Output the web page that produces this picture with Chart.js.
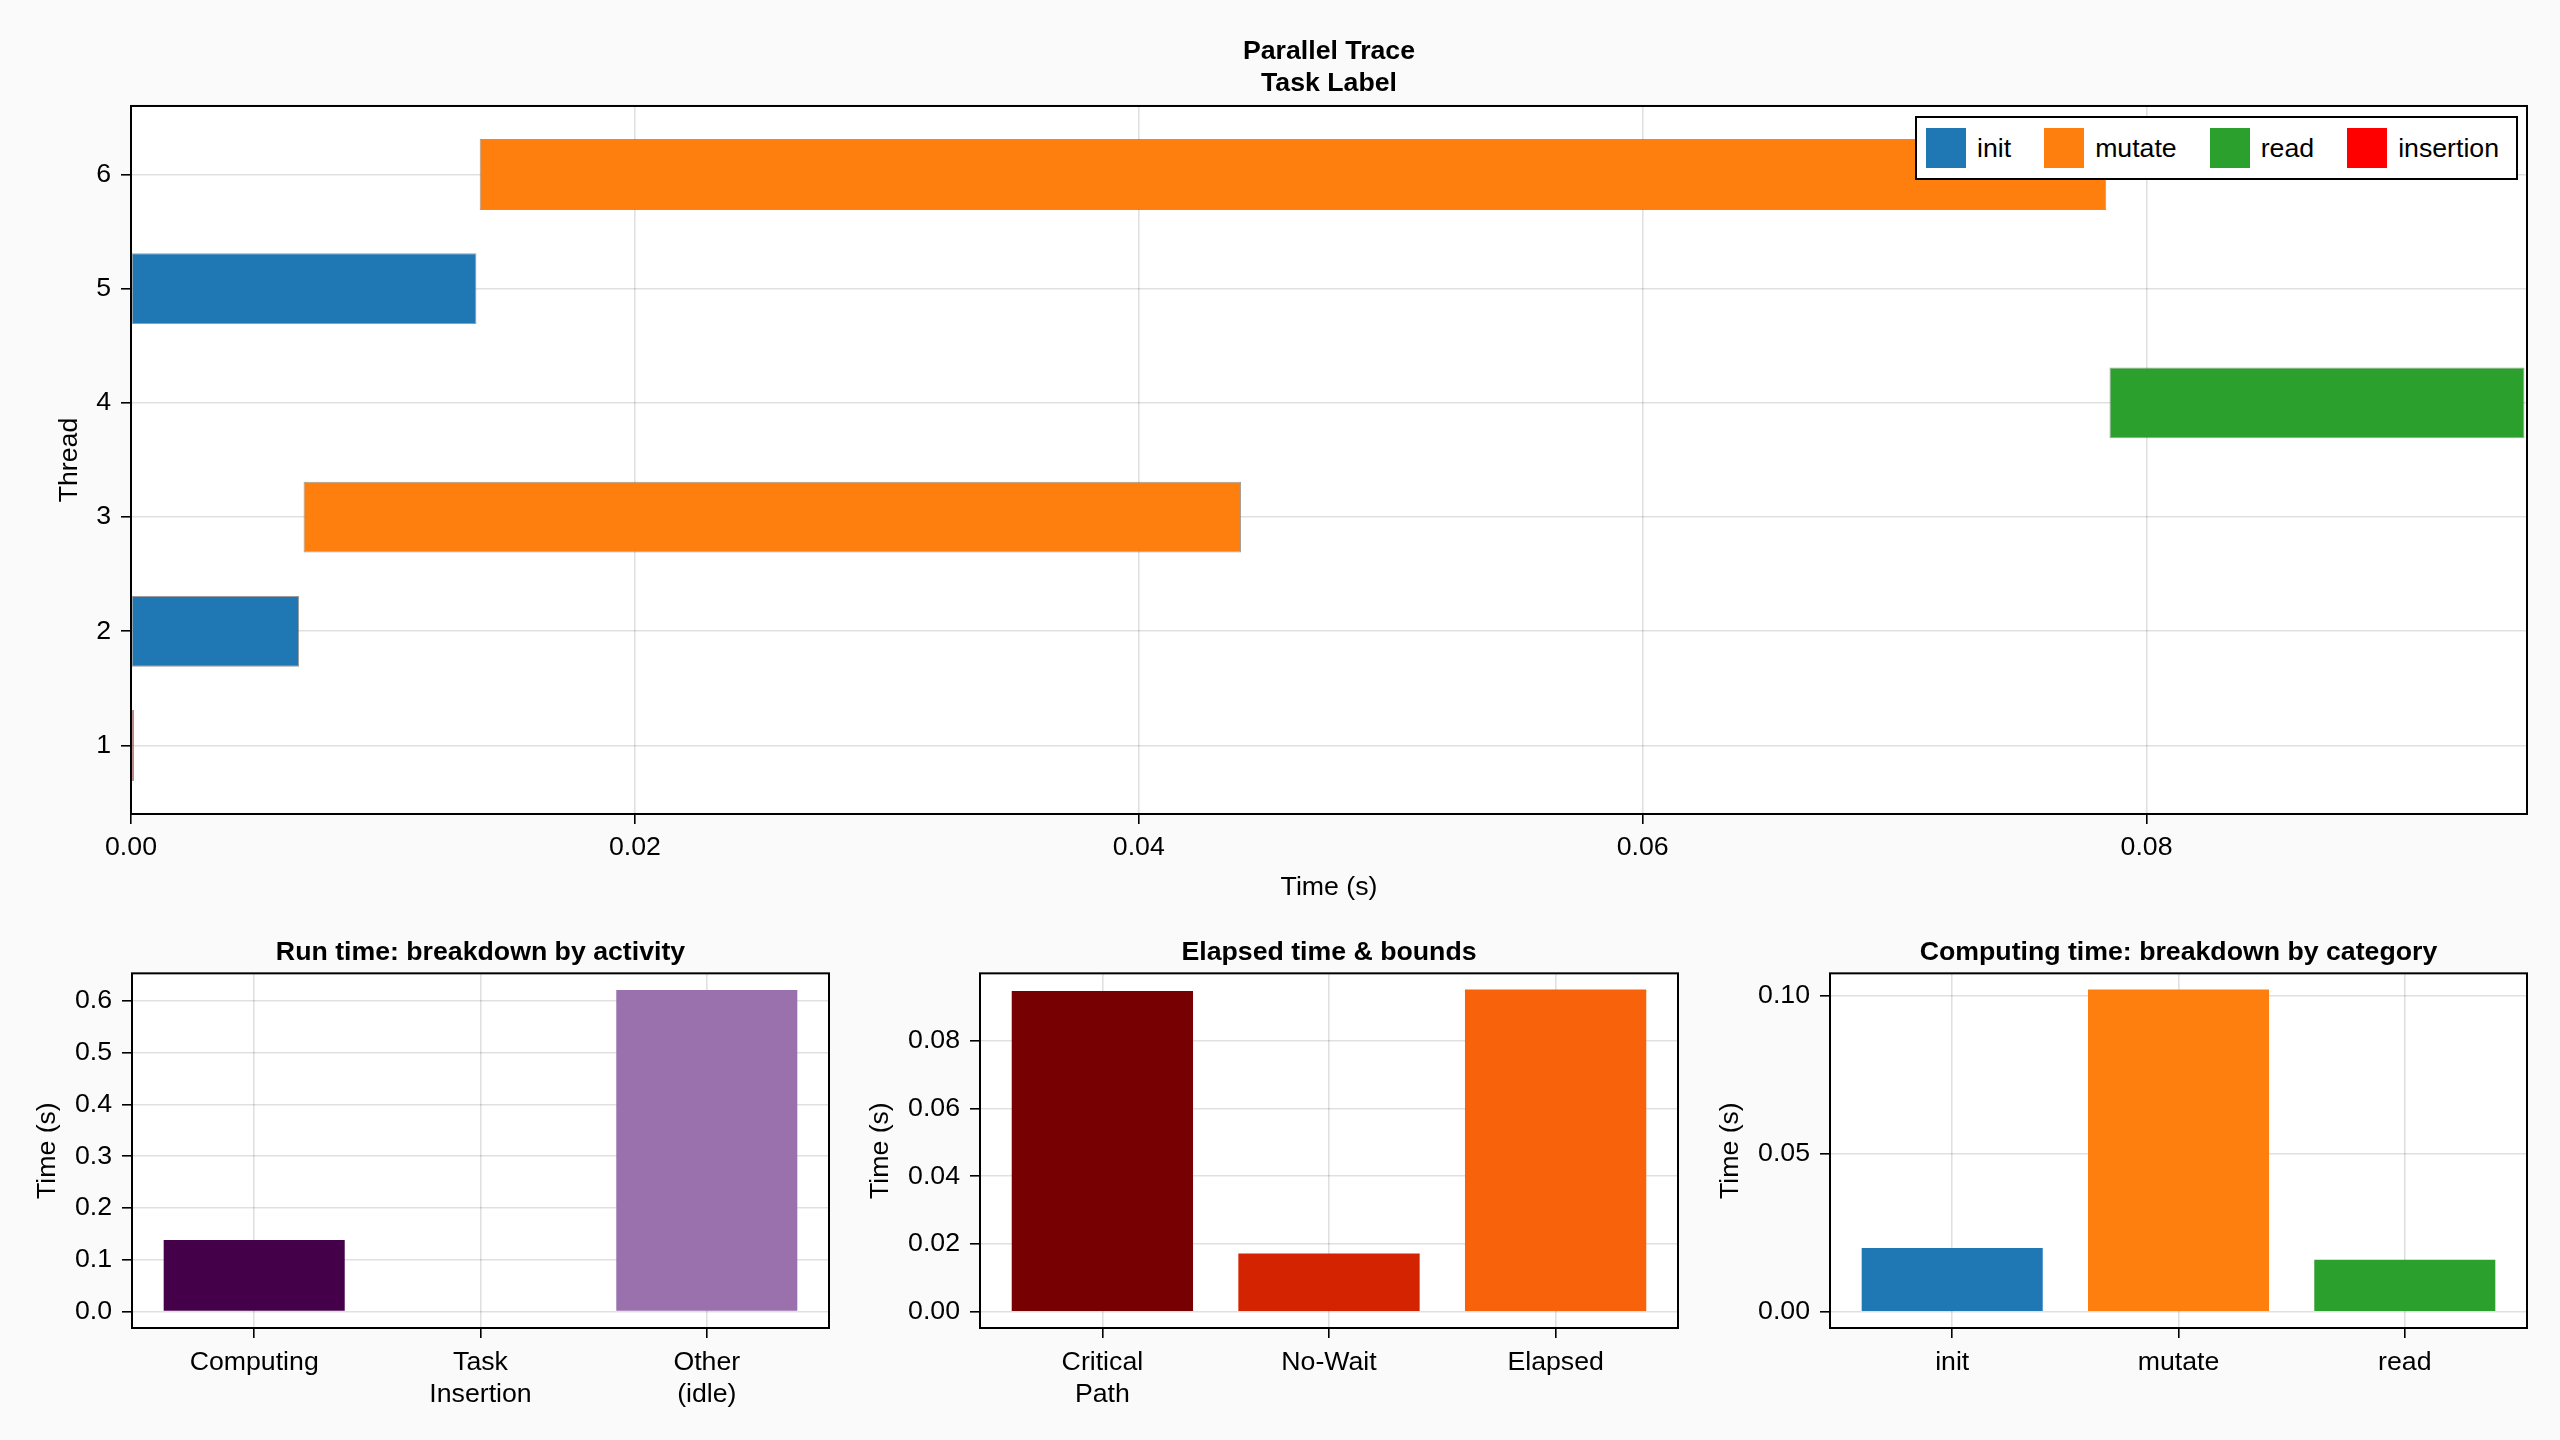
<!DOCTYPE html>
<html><head><meta charset="utf-8">
<script src="https://cdn.jsdelivr.net/npm/chart.js@4/dist/chart.umd.min.js"></script>
<style>
html,body{margin:0;padding:0;background:#fafafa;}
body{width:2560px;height:1440px;position:relative;overflow:hidden;font-family:'Liberation Sans',Arial,sans-serif;}
.box{position:absolute;}
#legend{position:absolute;left:1915px;top:116px;width:603px;height:64px;box-sizing:border-box;border:2px solid #000;background:#fff;display:flex;align-items:center;padding-left:9px;font-size:26.7px;color:#000;}
#legend .it{display:flex;align-items:center;margin-right:33px;}
#legend .it:last-child{margin-right:0;}
#legend .sw{width:40px;height:40px;margin-right:11px;}
</style></head><body>
<div class="box" style="left:0;top:0;width:2560px;height:910px"><canvas id="trace"></canvas></div>
<div class="box" style="left:1px;top:910px;width:858px;height:530px"><canvas id="p1"></canvas></div>
<div class="box" style="left:849px;top:910px;width:859px;height:530px"><canvas id="p2"></canvas></div>
<div class="box" style="left:1699px;top:910px;width:858px;height:530px"><canvas id="p3"></canvas></div>
<div id="legend"></div>
<script>
// ---------- DATA ----------
const traceTitle = ['Parallel Trace', 'Task Label'];
const traceThreadTicks = [1, 2, 3, 4, 5, 6];
const traceTimeTicks = [0, 0.02, 0.04, 0.06, 0.08];
const traceTimeTickLabels = ['0.00', '0.02', '0.04', '0.06', '0.08'];
const traceCategories = ['init', 'mutate', 'read', 'insertion'];
const traceColors = ['#1f77b4', '#ff7f0e', '#2ca02c', '#ff0000'];
const initThreads = [2, 5];
const initStart = [0, 0];
const initEnd = [0.00667, 0.01371];
const mutateThreads = [3, 6];
const mutateStart = [0.00685, 0.01384];
const mutateEnd = [0.04406, 0.0784];
const readThreads = [4];
const readStart = [0.07853];
const readEnd = [0.0950];
const insertionThreads = [1];
const insertionStart = [0];
const insertionEnd = [0.00012];

const runTitle = 'Run time: breakdown by activity';
const runCats = [['Computing'], ['Task', 'Insertion'], ['Other', '(idle)']];
const runVals = [0.1383, 0, 0.6212];
const runColors = ['#440049', '#6e3a86', '#9a71ad'];
const runTicks = [0, 0.1, 0.2, 0.3, 0.4, 0.5, 0.6];
const runTickLabels = ['0.0', '0.1', '0.2', '0.3', '0.4', '0.5', '0.6'];

const elapsedTitle = 'Elapsed time & bounds';
const elapsedCats = [['Critical', 'Path'], ['No-Wait'], ['Elapsed']];
const elapsedVals = [0.0946, 0.0172, 0.0950];
const elapsedColors = ['#770003', '#d42300', '#f8620a'];
const elapsedTicks = [0, 0.02, 0.04, 0.06, 0.08];
const elapsedTickLabels = ['0.00', '0.02', '0.04', '0.06', '0.08'];

const compTitle = 'Computing time: breakdown by category';
const compCats = [['init'], ['mutate'], ['read']];
const compVals = [0.0202, 0.1020, 0.0165];
const compColors = ['#1f77b4', '#ff7f0e', '#2ca02c'];
const compTicks = [0, 0.05, 0.10];
const compTickLabels = ['0.00', '0.05', '0.10'];

// ---------- STYLE ----------
const FONT = "'Liberation Sans', Arial, sans-serif";
const FS = 26.7;
Chart.defaults.font.family = FONT;
Chart.defaults.font.size = FS;
Chart.defaults.color = '#000';
const GRID = 'rgba(0,0,0,0.12)';

const framePlugin = {
  id: 'frame',
  beforeDraw(chart) {
    const {ctx, chartArea: a} = chart;
    ctx.save(); ctx.fillStyle = '#fff';
    ctx.fillRect(a.left, a.top, a.right - a.left, a.bottom - a.top);
    ctx.restore();
  },
  afterDatasetsDraw(chart) {
    const {ctx, chartArea: a} = chart;
    ctx.save(); ctx.strokeStyle = '#000'; ctx.lineWidth = 2;
    ctx.strokeRect(a.left, a.top, a.right - a.left, a.bottom - a.top);
    ctx.restore();
  }
};

function gridOpts() {
  return {color: GRID, lineWidth: 1.6, drawTicks: true, tickLength: 10, tickColor: '#000', tickWidth: 1.6, offset: false};
}

// ---------- TRACE ----------
function spans(th, s, e) { return th.map((t, i) => ({y: t, x: [s[i], e[i]]})); }
const traceSeries = [
  spans(initThreads, initStart, initEnd),
  spans(mutateThreads, mutateStart, mutateEnd),
  spans(readThreads, readStart, readEnd),
  spans(insertionThreads, insertionStart, insertionEnd)
];
const traceChart = new Chart(document.getElementById('trace'), {
  type: 'bar',
  data: {
    datasets: traceCategories.map((c, k) => ({
      label: c, data: traceSeries[k], backgroundColor: traceColors[k],
      borderColor: 'rgba(90,90,90,0.6)', borderWidth: 1, borderSkipped: false,
      grouped: false, barPercentage: 0.62, categoryPercentage: 1
    }))
  },
  options: {
    indexAxis: 'y', responsive: true, maintainAspectRatio: false, animation: false,
    layout: {padding: {left: 0, right: 33, top: 0, bottom: 0}},
    plugins: {
      legend: {display: false}, tooltip: {enabled: false},
      title: {display: true, text: traceTitle, fullSize: false, color: '#000',
        font: {size: FS, weight: 'bold', lineHeight: 1.2}, padding: {top: 36, bottom: 5.9}}
    },
    scales: {
      x: {type: 'linear', position: 'bottom', min: 0, max: 0.0951, offset: false,
        afterBuildTicks: s => { s.ticks = traceTimeTicks.map(v => ({value: v})); },
        afterFit: s => { s.height = 96; },
        grid: gridOpts(), border: {display: false},
        ticks: {padding: 8, autoSkip: false, maxRotation: 0, callback: (v, i) => traceTimeTickLabels[i]},
        title: {display: true, text: 'Time (s)', font: {size: FS}, padding: {top: 0, bottom: 6}}
      },
      y: {type: 'linear', position: 'left', min: 0.4, max: 6.6, offset: false,
        afterBuildTicks: s => { s.ticks = traceThreadTicks.map(v => ({value: v})); },
        afterFit: s => { s.width = 131; },
        grid: gridOpts(), border: {display: false},
        ticks: {padding: 10, autoSkip: false, callback: (v, i) => String(traceThreadTicks[i])},
        title: {display: true, text: 'Thread', font: {size: FS}, padding: {top: 54, bottom: 0}}
      }
    }
  },
  plugins: [framePlugin]
});

// HTML legend from the trace datasets
const leg = document.getElementById('legend');
traceChart.data.datasets.forEach(ds => {
  const it = document.createElement('div'); it.className = 'it';
  const sw = document.createElement('div'); sw.className = 'sw'; sw.style.background = ds.backgroundColor;
  const tx = document.createElement('span'); tx.textContent = ds.label;
  it.appendChild(sw); it.appendChild(tx); leg.appendChild(it);
});

// ---------- BOTTOM PANELS ----------
function makePanel(id, title, cats, vals, colors, yMin, yMax, yTicks, yTickLabels, yTitlePad) {
  return new Chart(document.getElementById(id), {
    type: 'bar',
    data: {datasets: [{data: vals.map((v, i) => ({x: i + 1, y: v})), backgroundColor: colors,
      borderWidth: 0, barPercentage: 0.8, categoryPercentage: 1}]},
    options: {
      responsive: true, maintainAspectRatio: false, animation: false,
      layout: {padding: {left: 0, right: 30, top: 0, bottom: 0}},
      plugins: {
        legend: {display: false}, tooltip: {enabled: false},
        title: {display: true, text: title, fullSize: false, color: '#000',
          font: {size: FS, weight: 'bold', lineHeight: 1.2}, padding: {top: 27, bottom: 4.3}}
      },
      scales: {
        x: {type: 'linear', position: 'bottom', min: 0.46, max: 3.54, offset: false,
          afterBuildTicks: s => { s.ticks = cats.map((c, i) => ({value: i + 1})); },
          afterFit: s => { s.height = 112; },
          grid: gridOpts(), border: {display: false},
          ticks: {padding: 8.5, autoSkip: false, maxRotation: 0, callback: (v, i) => cats[i]}
        },
        y: {type: 'linear', position: 'left', min: yMin, max: yMax,
          afterBuildTicks: s => { s.ticks = yTicks.map(v => ({value: v})); },
          afterFit: s => { s.width = 131; },
          grid: gridOpts(), border: {display: false},
          ticks: {padding: 10, autoSkip: false, callback: (v, i) => yTickLabels[i]},
          title: {display: true, text: 'Time (s)', font: {size: FS}, padding: {top: yTitlePad, bottom: 0}}
        }
      }
    },
    plugins: [framePlugin]
  });
}
makePanel('p1', runTitle, runCats, runVals, runColors, -0.0319, 0.6533, runTicks, runTickLabels, 31);
makePanel('p2', elapsedTitle, elapsedCats, elapsedVals, elapsedColors, -0.00475, 0.0998, elapsedTicks, elapsedTickLabels, 15.4);
makePanel('p3', compTitle, compCats, compVals, compColors, -0.0051, 0.1071, compTicks, compTickLabels, 15.5);
</script>
</body></html>
